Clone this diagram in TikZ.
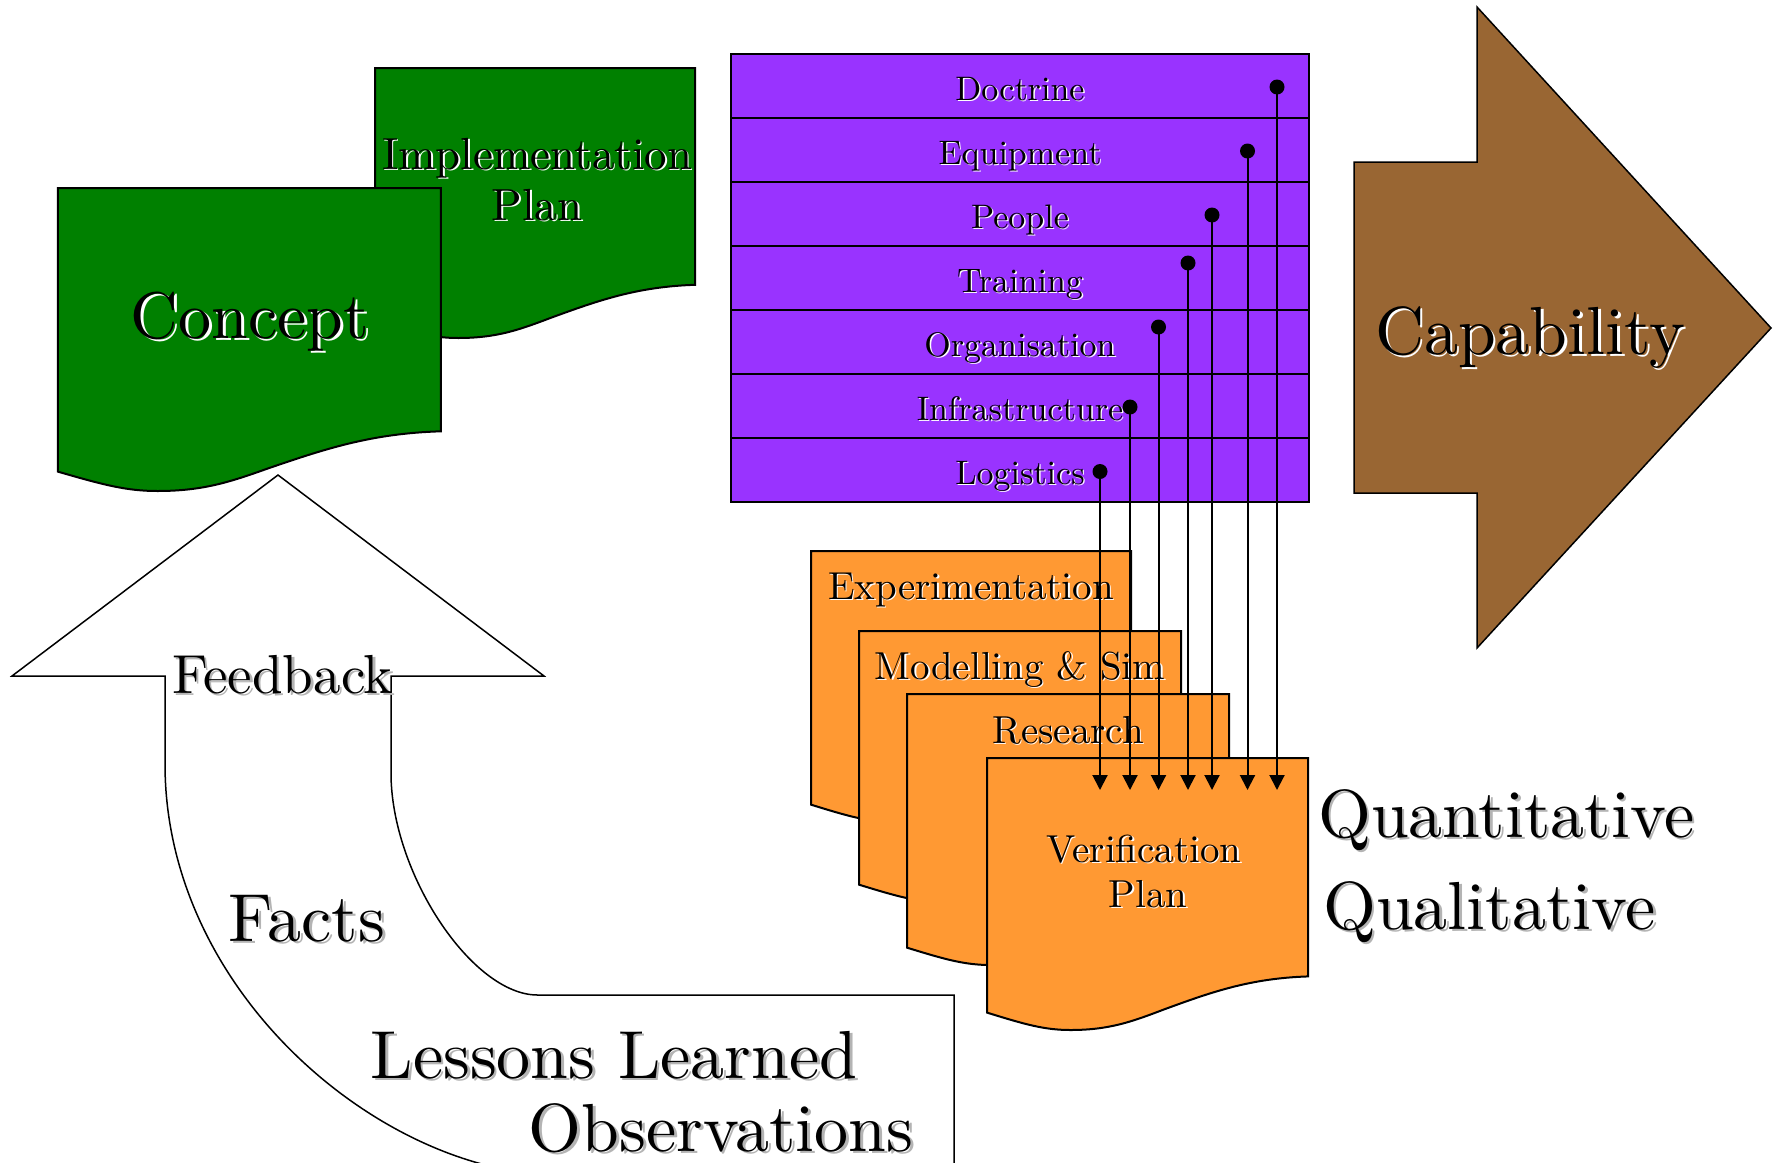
\documentclass[tikz,border=0pt]{standalone}
\usepackage{fontspec}
\setmainfont{lmroman10-regular.otf}
\usetikzlibrary{arrows.meta}
\definecolor{docgreen}{HTML}{008000}
\definecolor{rowpurple}{HTML}{9933FF}
\definecolor{docorange}{HTML}{FF9933}
\definecolor{capbrown}{HTML}{996633}
\definecolor{shadowgray}{HTML}{B4B4B4}
\newcommand\shtxt[2]{\makebox[0pt][l]{\hspace{0.04em}\raisebox{-0.04em}{\textcolor{#1}{#2}}}#2}
\newcommand\fs[1]{\fontsize{#1}{#1}\selectfont}
\newcommand\docat[5]{%
  \begin{scope}[shift={(#1,#2)}, xscale=#3, yscale=#4]
    \draw[docshape=#5] (0,0) -- (1,0) -- (1,0.803)
      .. controls (0.82,0.81) and (0.70,0.86) .. (0.55,0.925)
      .. controls (0.45,0.97) and (0.38,1.0) .. (0.26,1.0)
      .. controls (0.18,1.0) and (0.12,0.98) .. (0,0.936) -- cycle;
  \end{scope}}
\tikzset{
  docshape/.style={draw=black, line width=2pt, fill=#1},
  lbl/.style={inner sep=0pt, anchor=base},
  lblw/.style={inner sep=0pt, anchor=base west},
  rowbox/.style={draw=black, line width=2pt, fill=rowpurple, minimum width=578pt,
    minimum height=64pt, inner sep=0pt, text height=30pt, text depth=2pt, font={\fs{34}}},
  conn/.style={line width=2pt, -{Triangle[width=15pt,length=15pt]}},
  dotend/.style={fill=black},
  fbarrow/.style={draw=black, line width=1.5pt, fill=white},
  caparrow/.style={draw=black, line width=1.5pt, fill=capbrown},
  bigtxt/.style={font={\fs{68}}},
  orgtxt/.style={font={\fs{39}}},
}
\begin{document}
\begin{tikzpicture}[x=1pt,y=-1pt]
\useasboundingbox (0,0) rectangle (1777,1162);
\clip (0,0) rectangle (1777,1162);

% Feedback arrow
\draw[fbarrow] (278,475) -- (544,676) -- (391,676) -- (391,773)
  .. controls (391,873) and (472,995) .. (537.5,995) -- (954,995) -- (954,1200)
  -- (560,1200) -- (560,1175) .. controls (385,1175) and (165,995) .. (165,764)
  -- (165,676) -- (12,676) -- cycle;
\node[lbl, font={\fs{55}}] (feedback) at (282.5,693) {\shtxt{shadowgray}{Feedback}};
\node[lbl, bigtxt] (facts) at (307,941) {\shtxt{shadowgray}{Facts}};
\node[lbl, bigtxt] (lessons) at (614,1078) {\shtxt{shadowgray}{Lessons Learned}};
\node[lbl, bigtxt] (observ) at (721,1151) {\shtxt{shadowgray}{Observations}};

% Green documents
\docat{375}{68}{320}{270}{docgreen}
\node[lbl, font={\fs{45}}] (impl1) at (537,169) {\shtxt{white}{Implementation}};
\node[lbl, font={\fs{45}}] (impl2) at (537,220) {\shtxt{white}{Plan}};
\docat{57.8}{188}{383}{303}{docgreen}
\node[lbl, font={\fs{66}}] (concept) at (250,338) {\shtxt{white}{Concept}};

% Purple table
\node[rowbox] (doctrine) at (1020,86) {\shtxt{white}{Doctrine}};
\node[rowbox] (equipment) at (1020,150) {\shtxt{white}{Equipment}};
\node[rowbox] (people) at (1020,214) {\shtxt{white}{People}};
\node[rowbox] (training) at (1020,278) {\shtxt{white}{Training}};
\node[rowbox] (organisation) at (1020,342) {\shtxt{white}{Organisation}};
\node[rowbox] (infrastructure) at (1020,406) {\shtxt{white}{Infrastructure}};
\node[rowbox] (logistics) at (1020,470) {\shtxt{white}{Logistics}};

% Orange documents
\docat{811}{551}{320}{271}{docorange}
\node[lbl, orgtxt] (exper) at (971,599) {\shtxt{white}{Experimentation}};
\docat{859}{631}{322}{271}{docorange}
\node[lbl, orgtxt] (modsim) at (1020,679) {\shtxt{white}{Modelling \& Sim}};
\docat{907}{694}{322}{271}{docorange}
\node[lbl, orgtxt] (research) at (1068,743) {\shtxt{white}{Research}};
\docat{987}{758}{321}{272}{docorange}
\node[lbl, orgtxt] (verif1) at (1144,862) {\shtxt{white}{Verification}};
\node[lbl, orgtxt] (verif2) at (1148,907) {\shtxt{white}{Plan}};

% Connectors
\coordinate (dD) at (1277,87);     \coordinate (aD) at (1277,790);
\coordinate (dE) at (1247.5,151);  \coordinate (aE) at (1247.5,790);
\coordinate (dP) at (1212,215);    \coordinate (aP) at (1212,790);
\coordinate (dT) at (1188,263);    \coordinate (aT) at (1188,790);
\coordinate (dO) at (1158.5,327);  \coordinate (aO) at (1158.5,790);
\coordinate (dI) at (1130,407);    \coordinate (aI) at (1130,790);
\coordinate (dL) at (1100,471.5);  \coordinate (aL) at (1100,790);
\foreach \n in {D,E,P,T,O,I,L}{
  \fill[dotend] (d\n) circle[radius=7.5pt];
  \draw[conn] (d\n) -- (a\n);
}

% Capability arrow
\draw[caparrow] (1354,162) -- (1477,162) -- (1477,7) -- (1771,328) -- (1477,648)
  -- (1477,493) -- (1354,493) -- cycle;
\node[lbl, bigtxt] (capability) at (1530,354) {\shtxt{white}{Capability}};

% Right texts
\node[lblw, bigtxt] (quant) at (1318,837) {\shtxt{shadowgray}{Quantitative}};
\node[lblw, bigtxt] (qual) at (1323,929) {\shtxt{shadowgray}{Qualitative}};
\end{tikzpicture}
\end{document}
